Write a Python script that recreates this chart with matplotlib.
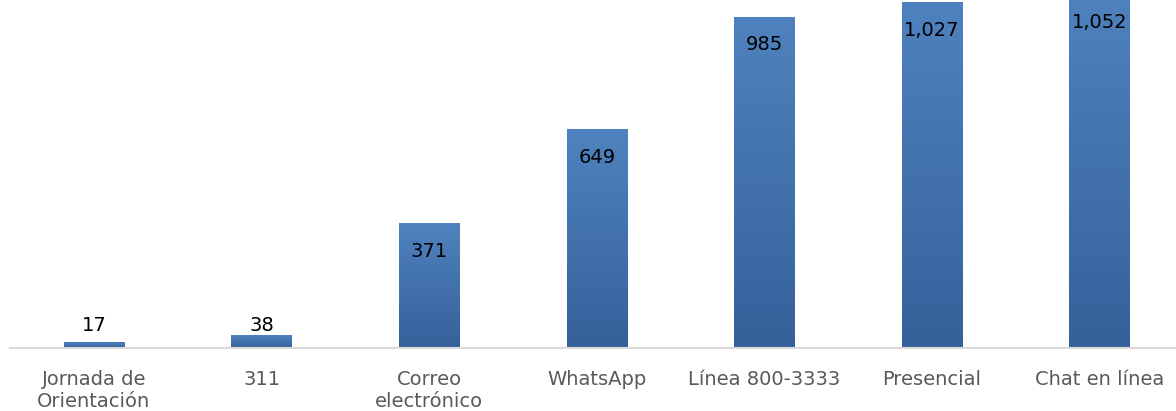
import matplotlib
matplotlib.use("Agg")
import matplotlib.pyplot as plt
import numpy as np
from matplotlib.colors import LinearSegmentedColormap

categories = ["Jornada de\nOrientación", "311", "Correo\nelectrónico", "WhatsApp",
              "Línea 800-3333", "Presencial", "Chat en línea"]
values = [17, 38, 371, 649, 985, 1027, 1052]
labels = ["17", "38", "371", "649", "985", "1,027", "1,052"]

plt.rcParams['font.family'] = ['DejaVu Sans']

W, H = 1176, 411
fig = plt.figure(figsize=(W / 100, H / 100), dpi=100)
base_px = 348
px_per_unit = 0.336
ymax = 1100
step = 167.6
ax = fig.add_axes([10.2 / W, (H - base_px) / H, 7 * step / W, ymax * px_per_unit / H])

cmap = LinearSegmentedColormap.from_list("g", ["#35619a", "#4f82be"])
grad = np.linspace(0, 1, 256).reshape(-1, 1)
x = np.arange(len(categories))
bars = ax.bar(x, values, width=0.36, color="#4f82be", zorder=2)
for b in bars:
    b.set_visible(False)
    ax.imshow(grad, cmap=cmap, origin="lower", aspect="auto",
              extent=[b.get_x(), b.get_x() + b.get_width(), 0, b.get_height()], zorder=2)
ax.set_xlim(-0.5, len(categories) - 0.5)
ax.set_ylim(0, ymax)

small_label_y = 67
for b, v, lab in zip(bars, values, labels):
    cx = b.get_x() + b.get_width() / 2
    if v < 100:
        ax.text(cx, small_label_y, lab, ha="center", va="center",
                fontsize=14, color="black")
    else:
        ax.annotate(lab, (cx, v), xytext=(0, -20), textcoords="offset points",
                    ha="center", va="center", fontsize=14, color="black")

ax.set_xticks(x)
ax.set_xticklabels(categories, fontsize=14, color="#595959", linespacing=1.22)
ax.tick_params(axis="x", length=0, pad=15.5)
ax.set_yticks([])
for s in ["top", "right", "left"]:
    ax.spines[s].set_visible(False)
ax.spines["bottom"].set_color("#d9d9d9")
ax.spines["bottom"].set_linewidth(1.5)
ax.patch.set_visible(False)

fig.savefig("out.png", dpi=100)
